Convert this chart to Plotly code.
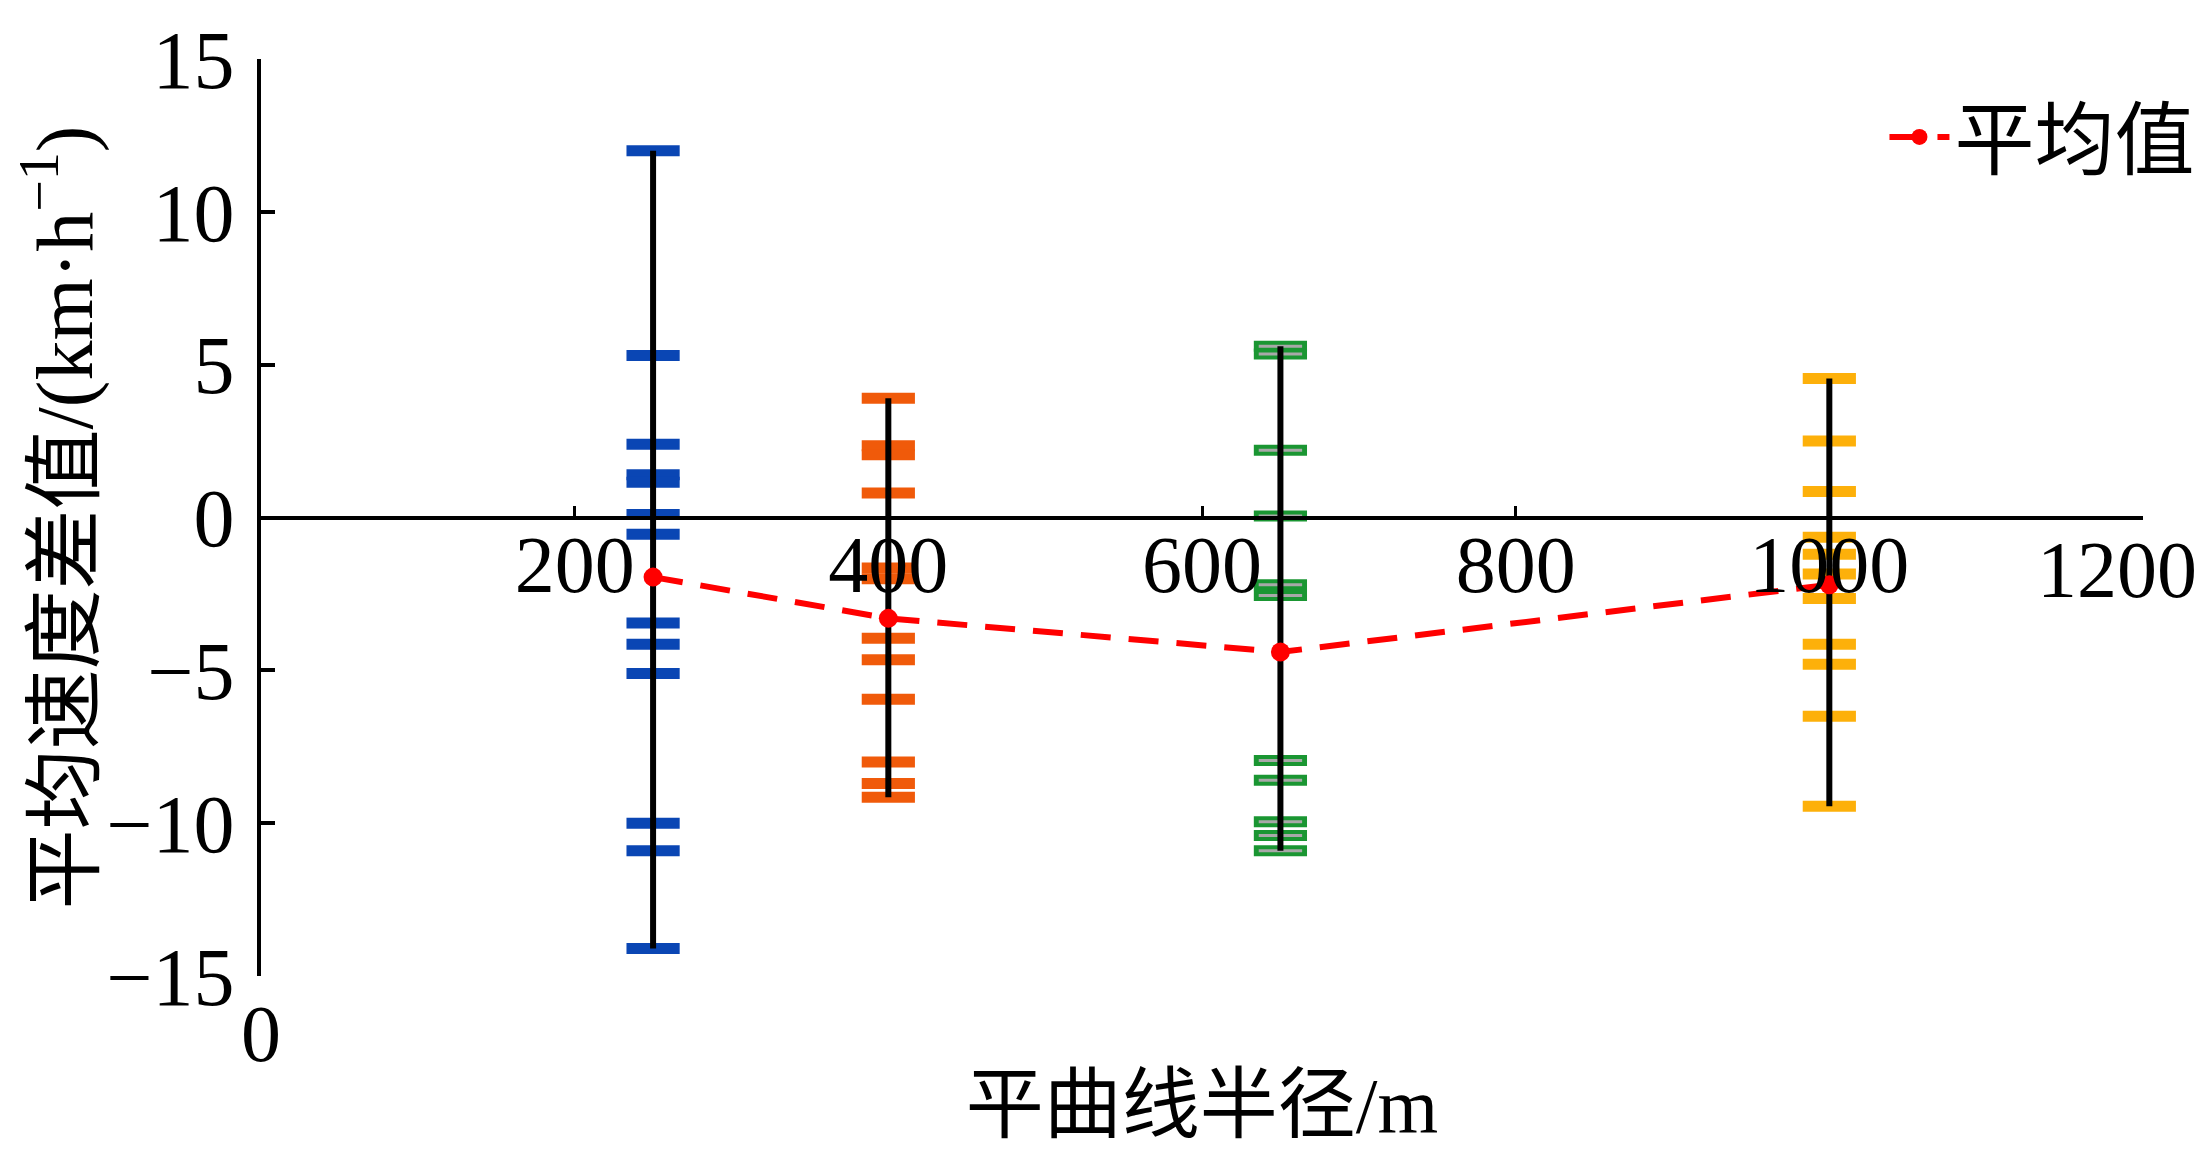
import plotly.graph_objects as go

# ---- data ----
radii = [250, 400, 650, 1000]
blue_vals = [12.0, 5.3, 2.4, 1.4, 1.15, 0.1, -0.55, -3.45, -4.15, -5.1, -10.0, -10.9, -14.1]
orange_vals = [3.9, 2.35, 2.05, 0.8, -1.65, -2.0, -3.95, -4.65, -5.95, -8.0, -8.7, -9.15]
green_vals = [5.6, 5.35, 2.2, 0.05, -2.2, -2.55, -7.95, -8.6, -9.95, -10.4, -10.9]
yellow_vals = [4.55, 2.5, 0.85, -0.65, -1.2, -1.85, -2.65, -4.15, -4.8, -6.5, -9.45]
mean_vals = [-1.95, -3.3, -4.4, -2.2]
mean_name = "平均值"

y_tickvals = [-15, -10, -5, 0, 5, 10, 15]
y_ticktext = ["\u221215", "\u221210", "\u22125", "0", "5", "10", "15"]
x_tickvals = [200, 400, 600, 800, 1000, 1200]
x_ticktext = ["200", "400", "600", "800", "1000", "1200"]

x_title = "平曲线半径/m"
y_title = "平均速度差值/(km·h<sup>\u22121</sup>)"

groups = [
    (radii[0], blue_vals, "#0a46b4", None),
    (radii[1], orange_vals, "#f05a0a", None),
    (radii[2], green_vals, "#1a9632", "#a8a8a8"),
    (radii[3], yellow_vals, "#fdb00a", None),
]

SERIF = "Liberation Serif, Times New Roman, Noto Sans CJK SC, serif"
CJK = "Liberation Serif, Noto Sans CJK SC, serif"

fig = go.Figure()

for x, vals, col, inner in groups:
    xs = [x] * len(vals)
    # caps
    fig.add_trace(go.Scatter(
        x=xs, y=vals, mode="markers", showlegend=False, hoverinfo="y",
        marker=dict(symbol="line-ew", size=38, color=col,
                    line=dict(color=col, width=11)),
    ))
    if inner:
        fig.add_trace(go.Scatter(
            x=xs, y=vals, mode="markers", showlegend=False, hoverinfo="skip",
            marker=dict(symbol="line-ew", size=31, color=inner,
                        line=dict(color=inner, width=3)),
        ))
    # vertical black range line
    fig.add_trace(go.Scatter(
        x=[x, x], y=[min(vals), max(vals)], mode="lines", showlegend=False,
        hoverinfo="skip", line=dict(color="black", width=6),
    ))

fig.add_trace(go.Scatter(
    x=radii, y=mean_vals, mode="lines+markers", name=mean_name,
    line=dict(color="#ff0000", width=6, dash="30px,18px"),
    marker=dict(color="#ff0000", size=19),
))

# dummy trace for bottom axis (title and origin label)
fig.add_trace(go.Scatter(x=[None], y=[None], xaxis="x2", showlegend=False,
                         hoverinfo="skip"))

# last x tick label is drawn right-aligned so it stays inside the page
axis_ticktext = x_ticktext[:-1] + [""]
fig.add_annotation(x=x_tickvals[-1], y=0, xref="x", yref="y",
                   text=x_ticktext[-1], showarrow=False,
                   xanchor="right", yanchor="middle", xshift=56, yshift=-52,
                   font=dict(family=SERIF, size=80, color="black"))

fig.update_layout(
    width=2203, height=1152,
    margin=dict(l=253, r=60, t=51, b=184),
    paper_bgcolor="white", plot_bgcolor="white",
    font=dict(family=SERIF, size=72, color="black"),
    showlegend=True,
    legend=dict(x=1.03, xanchor="right", y=0.915, yanchor="middle",
                font=dict(family=CJK, size=80), bgcolor="rgba(0,0,0,0)",
                itemwidth=60),
    xaxis=dict(range=[0, 1200], anchor="free", position=0.5, automargin=False,
               showline=True, linecolor="black", linewidth=4,
               ticks="inside", ticklen=10, tickwidth=3, tickcolor="black",
               tickvals=x_tickvals, ticktext=axis_ticktext,
               ticklabeloverflow="allow",
               showgrid=False, zeroline=False, ticklabelstandoff=-24,
               tickfont=dict(family=SERIF, size=80)),
    xaxis2=dict(range=[0, 1200], overlaying="x", anchor="y", side="bottom",
                automargin=False, ticklabeloverflow="allow",
                showline=False, ticks="", tickvals=[0], ticktext=["0"],
                showgrid=False, zeroline=False, ticklabelstandoff=4,
                tickfont=dict(family=SERIF, size=80),
                title=dict(text=x_title, font=dict(family=CJK, size=78),
                           standoff=0)),
    yaxis=dict(range=[-15, 15], showline=True, linecolor="black", linewidth=4,
               automargin=False,
               ticks="inside", ticklen=14, tickwidth=4, tickcolor="black",
               tickvals=y_tickvals, ticktext=y_ticktext,
               showgrid=False, zeroline=False, ticklabelstandoff=6,
               tickfont=dict(family=SERIF, size=82),
               title=dict(text=y_title, font=dict(family=CJK, size=80),
                          standoff=13)),
)

fig.write_html("out.html")
